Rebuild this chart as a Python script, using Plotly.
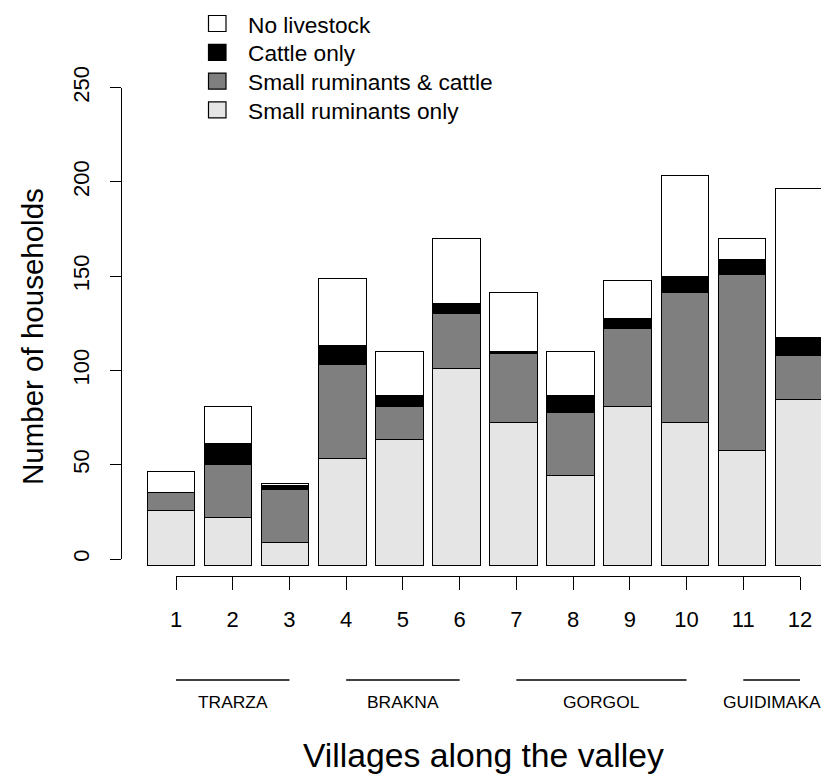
import plotly.graph_objects as go

# ---------------- data ----------------
villages = list(range(1, 13))
sr_only = [29, 25, 12, 56, 66, 103, 75, 47, 83, 75, 60, 87]
sr_cattle = [9, 28, 28, 49, 17, 29, 36, 33, 41, 68, 92, 23]
cattle_only = [0, 11, 2, 10, 6, 5, 1, 9, 5, 8, 8, 9]
no_livestock = [11, 19, 1, 35, 23, 34, 31, 23, 20, 53, 11, 78]

series_names = ["Small ruminants only", "Small ruminants & cattle", "Cattle only", "No livestock"]
y_ticks = [0, 50, 100, 150, 200, 250]

regions = ["TRARZA", "BRAKNA", "GORGOL", "GUIDIMAKA"]
region_start = [1, 4, 7, 11]
region_end = [3, 6, 10, 12]

# ---------------- layout helpers ----------------
W, H = 821, 774
def px_x(p):
    return p / W
def px_y(p):
    return 1 - p / H

FONT = "Liberation Sans, Arial, sans-serif"
colors = ["#E5E5E5", "#7F7F7F", "#000000", "#FFFFFF"]

fig = go.Figure()
for name, vals, col in zip(series_names, [sr_only, sr_cattle, cattle_only, no_livestock], colors):
    fig.add_trace(go.Bar(
        x=villages, y=vals, name=name, width=0.833,
        marker=dict(color=col, line=dict(color="black", width=1.2)),
        xaxis="x", yaxis="y", showlegend=False,
    ))

# anchor trace for the visible axes
fig.add_trace(go.Scatter(x=[], y=[], xaxis="x2", yaxis="y2", showlegend=False, hoverinfo="skip"))

# bar axes (hidden): centre of bar 1 at 171.5px, 57.09 px per bar; base at 566px, 1.912 px/unit
bar_step = 57.09
x0 = 1 - 171.5 / bar_step
y_scale = 1.912
fig.update_layout(
    width=W, height=H,
    margin=dict(l=0, r=0, t=0, b=0, pad=0, autoexpand=False),
    paper_bgcolor="white", plot_bgcolor="rgba(0,0,0,0)",
    barmode="stack", bargap=0,
    font=dict(family=FONT, color="black"),
    xaxis=dict(domain=[0, 1], range=[x0, x0 + W / bar_step], visible=False, fixedrange=True, automargin=False),
    yaxis=dict(domain=[0, 1], range=[-(H - 566) / y_scale, 566 / y_scale], visible=False, fixedrange=True, automargin=False),
    xaxis2=dict(
        domain=[px_x(176), px_x(800)], range=[1 - 1e-6, 12 + 1e-6], anchor="free", position=px_y(575.7),
        tickvals=villages, ticktext=[str(v) for v in villages],
        ticks="outside", ticklen=13, tickwidth=1.2, tickcolor="black",
        showline=True, linecolor="black", linewidth=1.2, automargin=False,
        showgrid=False, zeroline=False, tickfont=dict(size=22, family=FONT),
        ticklabelstandoff=11,
    ),
    yaxis2=dict(
        domain=[px_y(559), px_y(87.7)], range=[0, 250], anchor="free", position=px_x(121),
        tickvals=y_ticks, ticks="outside", ticklen=11, tickwidth=1.2, tickcolor="black",
        showline=True, linecolor="black", linewidth=1.2, tickangle=-90, automargin=False,
        showgrid=False, zeroline=False, tickfont=dict(size=22, family=FONT),
        ticklabelstandoff=12,
    ),
    showlegend=False,
)

# legend (drawn manually, R style): top-to-bottom is reverse of stacking order
leg_cy0, leg_dy = 23.5, 28.8
for k, idx in enumerate(reversed(range(len(series_names)))):
    cy = leg_cy0 + k * leg_dy
    fig.add_shape(type="rect", xref="paper", yref="paper",
                  x0=px_x(208.5), x1=px_x(226), y0=px_y(cy + 8), y1=px_y(cy - 8),
                  fillcolor=colors[idx], line=dict(color="black", width=1.2))
    fig.add_annotation(xref="paper", yref="paper", x=px_x(246), y=px_y(cy + 1), text=series_names[idx],
                       showarrow=False, xanchor="left", yanchor="middle",
                       font=dict(size=22.7, family=FONT))

# region underline segments and labels
for name, s, e in zip(regions, region_start, region_end):
    fig.add_shape(type="line", xref="x2", yref="paper", x0=s, x1=e, y0=px_y(680), y1=px_y(680),
                  line=dict(color="black", width=1.5))
    fig.add_annotation(xref="x2", yref="paper", x=(s + e) / 2, y=px_y(702), text=name,
                       showarrow=False, xanchor="center", yanchor="middle",
                       font=dict(size=17.4, family=FONT))

# axis titles
fig.add_annotation(xref="paper", yref="paper", x=px_x(483), y=px_y(755), text="Villages along the valley",
                   showarrow=False, xanchor="center", yanchor="middle", font=dict(size=33.7, family=FONT))
fig.add_annotation(xref="paper", yref="paper", x=px_x(32), y=px_y(337), text="Number of households",
                   textangle=-90, showarrow=False, xanchor="center", yanchor="middle",
                   font=dict(size=29.5, family=FONT))

fig.write_html("out.html")
